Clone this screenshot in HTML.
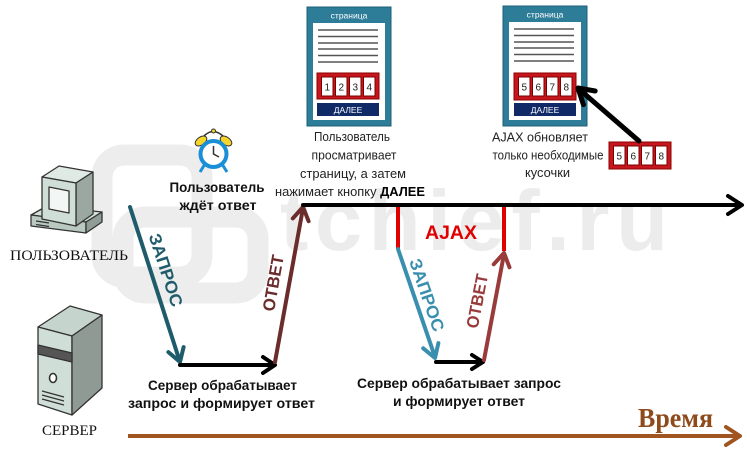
<!DOCTYPE html>
<html><head><meta charset="utf-8"><style>
html,body{margin:0;padding:0;background:#fff;}
svg{display:block;}
.s{font-family:"Liberation Sans",sans-serif;}
.r{font-family:"Liberation Serif",serif;}
</style></head><body>
<svg width="750" height="452" viewBox="0 0 750 452" xmlns="http://www.w3.org/2000/svg">
<rect width="750" height="452" fill="#fff"/>
<!-- watermark -->
<g fill="none" stroke="#ededed" stroke-width="21">
<rect x="102" y="155" width="100" height="122" rx="22"/>
<rect x="123" y="217" width="135" height="76" rx="22"/>
</g>
<text x="280" y="250" class="s" font-size="85" font-weight="bold" fill="#ececec" textLength="388" lengthAdjust="spacing">tchief.ru</text>

<!-- computer -->
<g stroke="#333" stroke-width="1.3" stroke-linejoin="round">
<polygon points="31,215 47,206 102,212 86,222" fill="#d3e2da"/>
<polygon points="31,215 86,222 86,233 31,226" fill="#b9c9c1"/>
<polygon points="86,222 102,212 102,222 86,233" fill="#8f9d96"/>
<line x1="36" y1="221" x2="49" y2="223"/>
<line x1="36" y1="224.5" x2="49" y2="226.5"/>
<polygon points="42,177 59,166 93,172 76,183" fill="#e0eae5"/>
<polygon points="76,183 93,172 93,214 76,226" fill="#9aa8a1"/>
<polygon points="42,177 76,183 76,226 42,219" fill="#cfded6"/>
<polygon points="49,187 69,191 69,213 49,209" fill="#f2f6f4"/>
</g>
<text x="69" y="260" class="r" font-size="15" fill="#111" text-anchor="middle" textLength="118" lengthAdjust="spacingAndGlyphs">ПОЛЬЗОВАТЕЛЬ</text>

<!-- server -->
<g stroke="#333" stroke-width="1.3" stroke-linejoin="round">
<polygon points="38,327 70,306 102,315 72,336" fill="#c5d4cc"/>
<polygon points="38,327 72,336 72,415 38,404" fill="#cfded6"/>
<polygon points="72,336 102,315 102,388 72,415" fill="#8f9a94"/>
<polygon points="38,345 72,353 72,362 38,354" fill="#555"/>
<ellipse cx="53" cy="378" rx="3.5" ry="4.5" fill="#fff" stroke-width="1.6"/>
<line x1="42" y1="391" x2="64" y2="397"/>
<line x1="42" y1="395" x2="64" y2="401"/>
<line x1="42" y1="399" x2="64" y2="405"/>
</g>
<text x="69.5" y="435" class="r" font-size="15" fill="#111" text-anchor="middle" textLength="55" lengthAdjust="spacingAndGlyphs">СЕРВЕР</text>

<!-- clock -->
<g>
<path d="M203,137 Q213,126 224,137" fill="none" stroke="#333" stroke-width="1.6"/>
<circle cx="213.5" cy="131" r="2" fill="#f6d52a" stroke="#333" stroke-width="1"/>
<ellipse cx="201" cy="141" rx="6.5" ry="4" transform="rotate(-35 201 141)" fill="#f6d52a" stroke="#333" stroke-width="1"/>
<ellipse cx="226" cy="141" rx="6.5" ry="4" transform="rotate(35 226 141)" fill="#f6d52a" stroke="#333" stroke-width="1"/>
<line x1="205" y1="164" x2="200" y2="172" stroke="#1a8fd8" stroke-width="3"/>
<line x1="222" y1="164" x2="227" y2="172" stroke="#1a8fd8" stroke-width="3"/>
<circle cx="213.5" cy="154" r="13" fill="#fff" stroke="#1a8fd8" stroke-width="4"/>
<polyline points="213.5,146 213.5,154 219,157" fill="none" stroke="#333" stroke-width="1.5"/>
</g>
<g class="s" font-size="13.5" font-weight="bold" fill="#111" text-anchor="middle" lengthAdjust="spacingAndGlyphs">
<text x="217" y="192" textLength="95" lengthAdjust="spacingAndGlyphs">Пользователь</text>
<text x="218" y="210" textLength="77" lengthAdjust="spacingAndGlyphs">ждёт ответ</text>
</g>

<!-- page 1 -->
<g transform="translate(307,7)">
<rect x="0" y="0" width="84" height="119" fill="#2e7d98" stroke="#1d5f78"/>
<text x="42" y="11.5" class="s" font-size="8.5" fill="#fff" text-anchor="middle">страница</text>
<rect x="6" y="16" width="72" height="97" fill="#fff"/>
<g stroke="#555" stroke-width="1.6">
<line x1="11" y1="23" x2="71" y2="23"/><line x1="11" y1="29.5" x2="71" y2="29.5"/>
<line x1="11" y1="36" x2="71" y2="36"/><line x1="11" y1="42" x2="71" y2="42"/>
<line x1="11" y1="48.5" x2="71" y2="48.5"/><line x1="11" y1="55" x2="71" y2="55"/>
</g>
<rect x="10" y="66" width="62" height="26" fill="#c8161e" stroke="#8b0000"/>
<g fill="#fff" stroke="#7a0000" stroke-width="1">
<rect x="14.5" y="70" width="11.5" height="19"/><rect x="28.5" y="70" width="11.5" height="19"/>
<rect x="42.5" y="70" width="11.5" height="19"/><rect x="56.5" y="70" width="11.5" height="19"/>
</g>
<g class="s" font-size="10" fill="#222" text-anchor="middle">
<text x="20.25" y="83.5">1</text><text x="34.25" y="83.5">2</text><text x="48.25" y="83.5">3</text><text x="62.25" y="83.5">4</text>
</g>
<rect x="10" y="96" width="62" height="13" fill="#0f2a66"/>
<text x="41" y="106" class="s" font-size="8.5" fill="#fff" text-anchor="middle">ДАЛЕЕ</text>
</g>
<g class="s" font-size="13" fill="#222" text-anchor="middle">
<text x="352" y="141" textLength="76" lengthAdjust="spacingAndGlyphs">Пользователь</text>
<text x="354" y="159.5" textLength="85" lengthAdjust="spacingAndGlyphs">просматривает</text>
<text x="353" y="178" textLength="106" lengthAdjust="spacingAndGlyphs">страницу, а затем</text>
<text x="350" y="196" textLength="150" lengthAdjust="spacingAndGlyphs">нажимает кнопку <tspan font-weight="bold" fill="#000">ДАЛЕЕ</tspan></text>
</g>

<!-- page 2 -->
<g transform="translate(503,6)">
<rect x="0" y="0" width="84" height="120" fill="#2e7d98" stroke="#1d5f78"/>
<text x="42" y="11.5" class="s" font-size="8.5" fill="#fff" text-anchor="middle">страница</text>
<rect x="6" y="16" width="72" height="98" fill="#fff"/>
<g stroke="#555" stroke-width="1.6">
<line x1="11" y1="23" x2="71" y2="23"/><line x1="11" y1="29.5" x2="71" y2="29.5"/>
<line x1="11" y1="36" x2="71" y2="36"/><line x1="11" y1="42" x2="71" y2="42"/>
<line x1="11" y1="48.5" x2="71" y2="48.5"/><line x1="11" y1="55" x2="71" y2="55"/>
</g>
<rect x="11" y="67" width="62" height="27" fill="#c8161e" stroke="#8b0000"/>
<g fill="#fff" stroke="#7a0000" stroke-width="1">
<rect x="15.5" y="71" width="11.5" height="19"/><rect x="29.5" y="71" width="11.5" height="19"/>
<rect x="43.5" y="71" width="11.5" height="19"/><rect x="57.5" y="71" width="11.5" height="19"/>
</g>
<g class="s" font-size="10" fill="#222" text-anchor="middle">
<text x="21.25" y="84.5">5</text><text x="35.25" y="84.5">6</text><text x="49.25" y="84.5">7</text><text x="63.25" y="84.5">8</text>
</g>
<rect x="11" y="97" width="62" height="13" fill="#0f2a66"/>
<text x="42" y="107" class="s" font-size="8.5" fill="#fff" text-anchor="middle">ДАЛЕЕ</text>
</g>
<g class="s" font-size="13" fill="#222" text-anchor="middle">
<text x="540" y="141.5" textLength="96" lengthAdjust="spacingAndGlyphs">AJAX обновляет</text>
<text x="548" y="159.5" textLength="111" lengthAdjust="spacingAndGlyphs">только необходимые</text>
<text x="547.5" y="177" textLength="45" lengthAdjust="spacingAndGlyphs">кусочки</text>
</g>

<!-- small 5678 box -->
<g transform="translate(609,142)">
<rect x="0" y="0" width="62" height="27" fill="#c8161e" stroke="#8b0000"/>
<g fill="#fff" stroke="#7a0000" stroke-width="1">
<rect x="4.5" y="4" width="11.5" height="19"/><rect x="18.5" y="4" width="11.5" height="19"/>
<rect x="32.5" y="4" width="11.5" height="19"/><rect x="46.5" y="4" width="11.5" height="19"/>
</g>
<g class="s" font-size="10" fill="#222" text-anchor="middle">
<text x="10.25" y="17.5">5</text><text x="24.25" y="17.5">6</text><text x="38.25" y="17.5">7</text><text x="52.25" y="17.5">8</text>
</g>
</g>
<!-- arrow to page 2 -->
<g stroke="#000" stroke-width="5" fill="none" stroke-linecap="round" stroke-linejoin="round">
<line x1="639" y1="141" x2="580" y2="90"/>
<polyline points="595.2,91 578,88 583.4,104.6"/>
</g>

<!-- timeline arrows -->
<g fill="none" stroke-width="4" stroke-linecap="round" stroke-linejoin="round">
<line x1="130" y1="207" x2="180" y2="362" stroke="#1f5c6b"/>
<polyline points="168.4,352.1 180,362 183.6,347.1" stroke="#1f5c6b"/>
<line x1="180" y1="365" x2="274" y2="365" stroke="#000"/>
<polyline points="263,357 275,365 263,373" stroke="#000"/>
<line x1="275" y1="362" x2="303" y2="208" stroke="#6b2c2c"/>
<polyline points="292.8,218.4 303,207 308.6,221.2" stroke="#6b2c2c"/>
<line x1="303" y1="205" x2="741" y2="205" stroke="#000"/>
<polyline points="728,196 742,205 728,214" stroke="#000"/>
<line x1="398" y1="207" x2="398" y2="249" stroke="#e00000" stroke-linecap="butt"/>
<line x1="504" y1="207" x2="504" y2="251" stroke="#e00000" stroke-linecap="butt"/>
<line x1="398" y1="249" x2="435" y2="357" stroke="#3a8fae"/>
<polyline points="423.2,348.3 435,358 438.4,343.1" stroke="#3a8fae"/>
<line x1="436" y1="362" x2="482" y2="362" stroke="#000"/>
<polyline points="472,355 483,362 472,369" stroke="#000"/>
<line x1="484" y1="360" x2="504" y2="254" stroke="#9a3b3b"/>
<polyline points="493.7,264.3 504,253 509.5,267.3" stroke="#9a3b3b"/>
<line x1="128" y1="436" x2="739" y2="436" stroke="#a0541f" stroke-linecap="butt"/>
<polyline points="726,427 740,436 726,445" stroke="#a0541f"/>
</g>

<!-- arrow labels -->
<g class="s" font-size="17" font-weight="bold">
<text transform="translate(166,270) rotate(72)" text-anchor="middle" dy="6" fill="#1f5c6b" textLength="76" lengthAdjust="spacingAndGlyphs">ЗАПРОС</text>
<text transform="translate(273,283) rotate(-80)" text-anchor="middle" dy="6" fill="#6b2c2c" textLength="57" lengthAdjust="spacingAndGlyphs">ОТВЕТ</text>
<text transform="translate(427,295) rotate(71)" text-anchor="middle" dy="6" fill="#3a8fae" textLength="76" lengthAdjust="spacingAndGlyphs">ЗАПРОС</text>
<text transform="translate(477,301) rotate(-79)" text-anchor="middle" dy="6" fill="#9a3b3b" textLength="55" lengthAdjust="spacingAndGlyphs">ОТВЕТ</text>
</g>
<text x="451" y="239" class="s" font-size="19" font-weight="bold" fill="#e00000" text-anchor="middle" textLength="52" lengthAdjust="spacingAndGlyphs">AJAX</text>

<g class="s" font-size="13.5" font-weight="bold" fill="#111" text-anchor="middle">
<text x="222.5" y="390" textLength="149" lengthAdjust="spacingAndGlyphs">Сервер обрабатывает</text>
<text x="221.5" y="408" textLength="187" lengthAdjust="spacingAndGlyphs">запрос и формирует ответ</text>
<text x="459" y="388" textLength="204" lengthAdjust="spacingAndGlyphs">Сервер обрабатывает  запрос</text>
<text x="459" y="406" textLength="132" lengthAdjust="spacingAndGlyphs">и формирует ответ</text>
</g>
<text x="675.5" y="427" class="r" font-size="27" font-weight="bold" fill="#8e4a1a" text-anchor="middle" textLength="75" lengthAdjust="spacingAndGlyphs">Время</text>
</svg>
</body></html>
